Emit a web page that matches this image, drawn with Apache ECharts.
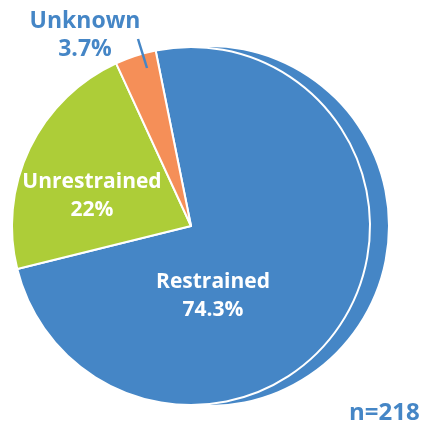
<!DOCTYPE html>
<html>
<head>
<meta charset="utf-8">
<script src="https://cdn.jsdelivr.net/npm/echarts@6/dist/echarts.min.js"></script>
<style>html,body{margin:0;padding:0;background:#fff}#c{width:424px;height:426px}</style>
</head>
<body>
<div id="c"></div>
<script>
var categories = ['Restrained', 'Unrestrained', 'Unknown'];
var values = [74.3, 22, 3.7];
var sampleNote = 'n=218';

var colors = ['#4586C6', '#ADCD38', '#F58F58'];
var labelColors = ['#ffffff', '#ffffff', '#4586C6'];
var labelSizes = [21, 21, 23];
var labelPos = [[213, 296], [92, 196], [85, 35]];

var chart = echarts.init(document.getElementById('c'));
var font = '"Open Sans", "Noto Sans", sans-serif';
chart.setOption({
  animation: false,
  series: [
    {
      type: 'pie',
      silent: true,
      center: [209, 226],
      radius: 179,
      startAngle: 101.4,
      label: { show: false },
      labelLine: { show: false },
      itemStyle: { color: colors[0] },
      data: [{ name: 'shadow', value: values[0] }]
    },
    {
      type: 'pie',
      center: [191, 226],
      radius: 179,
      startAngle: 101.4,
      clockwise: true,
      itemStyle: { borderColor: '#fff', borderWidth: 2 },
      label: {
        show: true,
        position: 'inside',
        formatter: function (p) { return p.name + '\n' + p.value + '%'; },
        fontFamily: font,
        fontWeight: 'bold',
        fontSize: 21,
        lineHeight: 28,
        align: 'center'
      },
      labelLine: { show: false },
      labelLayout: function (p) {
        var pos = labelPos[p.dataIndex];
        return { x: pos[0], y: pos[1], align: 'center', verticalAlign: 'middle' };
      },
      data: categories.map(function (c, i) {
        return {
          name: c,
          value: values[i],
          itemStyle: { color: colors[i] },
          label: { color: labelColors[i], fontSize: labelSizes[i] }
        };
      })
    }
  ],
  graphic: [
    {
      type: 'line',
      z: 100,
      shape: { x1: 138, y1: 39, x2: 147, y2: 68 },
      style: { stroke: '#4586C6', lineWidth: 2.5 }
    },
    {
      type: 'text',
      z: 100,
      left: 349,
      top: 401,
      style: { text: sampleNote, fill: '#4586C6', font: 'bold 24px ' + font }
    }
  ]
});
</script>
</body>
</html>
